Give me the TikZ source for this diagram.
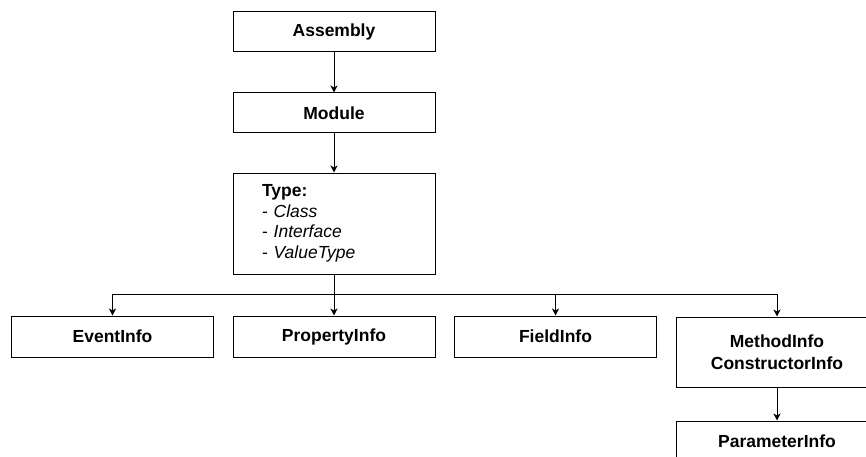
\documentclass[tikz,border=0pt]{standalone}
\usepackage{fontspec}
\setmainfont{Liberation Sans}
\usetikzlibrary{arrows.meta}
\tikzset{
  infonode/.style={rectangle,draw=black,line width=1pt,fill=white,
    minimum width=202pt,minimum height=40pt,inner sep=0pt,align=center,
    font=\fontsize{17.5}{20.5}\selectfont\bfseries},
  listnode/.style={rectangle,draw=black,line width=1pt,fill=white,
    minimum width=202pt,minimum height=101pt,inner xsep=29pt,inner ysep=0pt,
    text width=144pt,align=left,font=\fontsize{17.5}{20.5}\selectfont},
  arr/.style={-{Stealth[length=7pt,width=7pt,inset=2pt]},line width=1pt,draw=black}
}

\begin{document}
\begin{tikzpicture}[x=1pt,y=-1pt]

  \useasboundingbox (0,0) rectangle (866,457);
  \clip (0,0) rectangle (866,457);

  % Top chain
  \node[infonode] (assembly) at (334,32) {Assembly};
  \node[infonode] (module) at (334,113) {Module};
  \node[listnode] (type) at (334,223.5)
    {\textbf{Type:}\\- \textit{Class}\\- \textit{Interface}\\- \textit{ValueType}};

  % Members
  \node[infonode,minimum height=41pt] (eventinfo) at (112.5,336.5) {EventInfo};
  \node[infonode,minimum height=41pt] (propinfo) at (334,336.5) {PropertyInfo};
  \node[infonode,minimum height=41pt] (fieldinfo) at (555.5,336.5) {FieldInfo};
  \node[infonode,minimum height=70pt,font=\fontsize{17.5}{22}\selectfont\bfseries]
    (methodinfo) at (777,352) {MethodInfo\\ConstructorInfo};
  \node[infonode] (paraminfo) at (777,441) {ParameterInfo};

  % Connectors
  \draw[arr] (assembly) -- (module);
  \draw[arr] (module) -- (type);
  \coordinate (split) at (334,294);
  \draw[arr] (type) -- (propinfo);
  \draw[arr] (type.south) -- (split) -| (eventinfo.north);
  \draw[arr] (type.south) -- (split) -| (fieldinfo.north);
  \draw[arr] (type.south) -- (split) -| (methodinfo.north);
  \draw[arr] (methodinfo) -- (paraminfo);

\end{tikzpicture}
\end{document}
